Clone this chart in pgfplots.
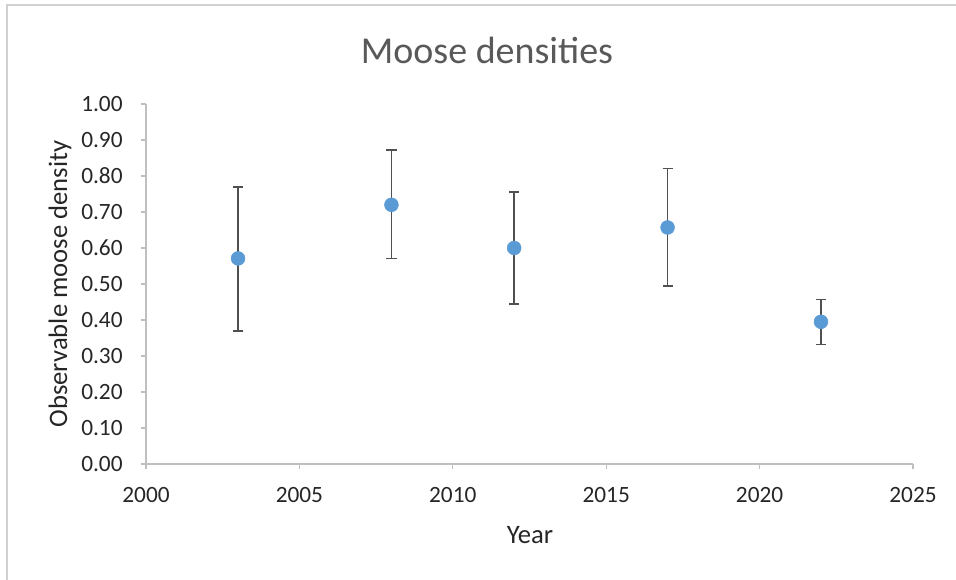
\documentclass[border=0pt]{standalone}
\usepackage{pgfplots}
\pgfplotsset{compat=1.18}
\usepackage{fontspec}
\setmainfont{Carlito}
\definecolor{markblue}{HTML}{5B9BD5}
\definecolor{titlegray}{HTML}{595959}
\definecolor{labelgray}{HTML}{262626}
\definecolor{axisgray}{HTML}{BFBFBF}
\definecolor{bargray}{HTML}{505050}
\definecolor{framegray}{HTML}{D0D0D0}

\pgfplotstableread{
year dens eplus eminus
2003 0.571 0.199 0.201
2008 0.720 0.152 0.149
2012 0.600 0.155 0.156
2017 0.657 0.164 0.163
2022 0.395 0.062 0.063
}\moosedata

\begin{document}
\begin{tikzpicture}
% page area, 1px = 0.75pt
\path[use as bounding box] (0,0) rectangle (717pt,435pt);
% chart frame (left and top edges)
\draw[framegray, line width=1.2pt] (5.25pt,0) -- (5.25pt,431.25pt) -- (717pt,431.25pt);

\begin{axis}[
  at={(109.5pt,87pt)}, anchor=south west,
  scale only axis,
  width=575.25pt, height=270pt,
  xmin=2000, xmax=2025, ymin=0, ymax=1,
  xtick={2000,2005,...,2025},
  ytick={0,0.1,...,1.0},
  axis x line*=bottom, axis y line*=left,
  axis line style={axisgray, line width=0.8pt, -},
  tick style={axisgray, line width=0.8pt},
  tick align=outside,
  major tick length=4pt,
  tick label style={font=\fontsize{17.5}{21}\selectfont, text=labelgray},
  xticklabel={\pgfmathprintnumber[set thousands separator={}, assume math mode=true]{\tick}},
  yticklabel={\pgfmathprintnumber[fixed, fixed zerofill, precision=2, assume math mode=true]{\tick}},
  xticklabel style={yshift=-10pt},
  yticklabel style={xshift=-10pt},
  clip=false,
]
\addplot[
  only marks,
  mark=*,
  mark size=5.2pt,
  mark options={fill=markblue, draw=markblue},
  error bars/.cd,
    y dir=both, y explicit,
    error bar style={bargray, line width=1.1pt},
    error mark options={bargray, line width=1.1pt, mark size=3.8pt, rotate=90},
] table[x=year, y=dens, y error plus=eplus, y error minus=eminus] {\moosedata};
\end{axis}

% titles and axis labels
\node[text=titlegray, font=\fontsize{28.5}{33}\selectfont] at (365.25pt,397.5pt) {Moose densities};
\node[text=labelgray, font=\fontsize{20}{24}\selectfont] at (397.5pt,33.75pt) {Year};
\node[text=labelgray, font=\fontsize{20}{24}\selectfont, rotate=90] at (45pt,222pt) {Observable moose density};
\end{tikzpicture}
\end{document}
